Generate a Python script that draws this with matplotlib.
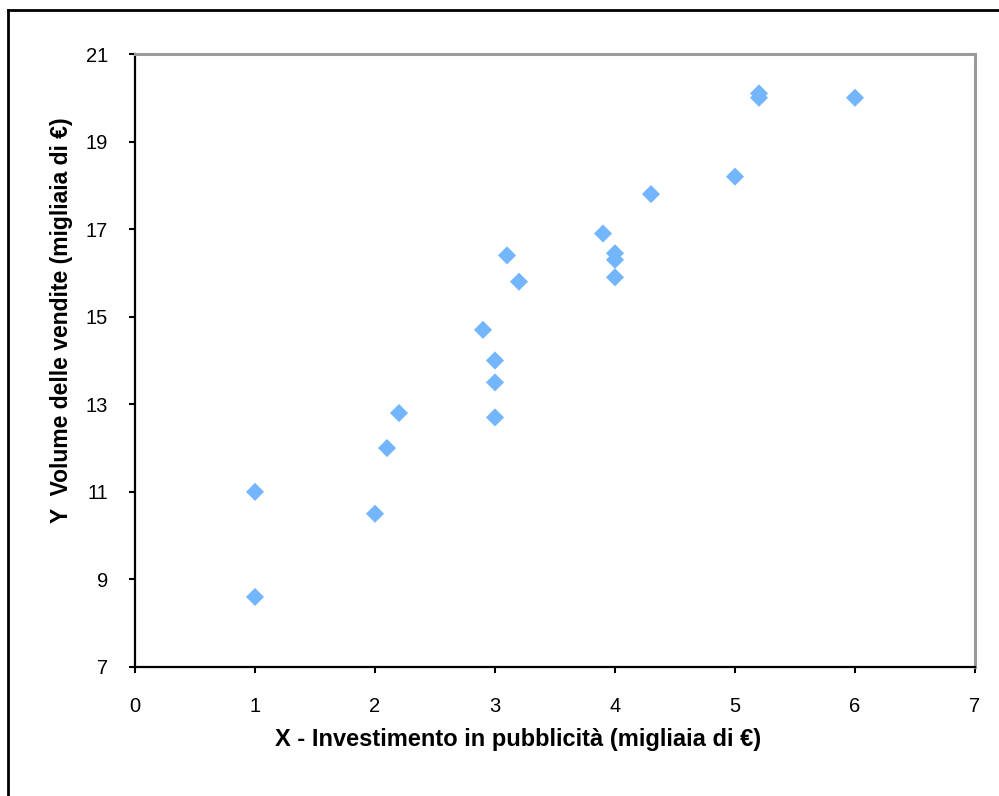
import matplotlib
matplotlib.use("Agg")
import matplotlib.pyplot as plt
from matplotlib.lines import Line2D

plt.rcParams['font.family'] = ['Liberation Sans', 'DejaVu Sans']

# Investimento in pubblicità (X) e volume delle vendite (Y), migliaia di €
investimento = [1.0, 1.0, 2.0, 2.1, 2.2, 2.9, 3.0, 3.0, 3.0, 3.1, 3.2,
                3.9, 4.0, 4.0, 4.0, 4.3, 5.0, 5.2, 5.2, 6.0]
vendite = [11.0, 8.6, 10.5, 12.0, 12.8, 14.7, 14.0, 13.5, 12.7, 16.4, 15.8,
           16.9, 16.45, 16.3, 15.9, 17.8, 18.2, 20.1, 20.0, 20.0]

x_ticks = [0, 1, 2, 3, 4, 5, 6, 7]
y_ticks = [7, 9, 11, 13, 15, 17, 19, 21]

W, H = 999, 796
fig = plt.figure(figsize=(W / 100, H / 100), dpi=100)
fig.patch.set_facecolor('white')

ax = fig.add_axes([135 / W, 1 - 667 / H, (975 - 135) / W, (667 - 54) / H])
ax.scatter(investimento, vendite, marker='D', s=85, color='#73B6FD',
           edgecolors='none', zorder=3, clip_on=False)

ax.set_xlim(0, 7)
ax.set_ylim(7, 21)
ax.set_xticks(x_ticks)
ax.set_yticks(y_ticks)
ax.tick_params(axis='both', direction='out', length=4.5, width=1.5,
               labelsize=14.5, colors='black')
ax.tick_params(axis='x', pad=17)
ax.tick_params(axis='y', pad=15)

for side in ('left', 'bottom'):
    ax.spines[side].set_color('black')
    ax.spines[side].set_linewidth(1.6)
for side in ('top', 'right'):
    ax.spines[side].set_color('#9a9a9a')
    ax.spines[side].set_linewidth(2.2)

ax.set_xlabel('X - Investimento in pubblicità (migliaia di €)',
              fontsize=17, fontweight='bold', va='center')
ax.xaxis.set_label_coords(0.4565, -0.119)
ax.set_ylabel('Y  Volume delle vendite (migliaia di €)',
              fontsize=16.5, fontweight='bold', va='center')
ax.yaxis.set_label_coords(-0.088, 0.566)

# outer frame of the chart object
fig.add_artist(Line2D([8 / W, 8 / W], [0, 1 - 10 / H], color='black',
                      linewidth=2, transform=fig.transFigure))
fig.add_artist(Line2D([8 / W, 1], [1 - 10 / H, 1 - 10 / H], color='black',
                      linewidth=2, transform=fig.transFigure))

fig.savefig('out.png', dpi=100)
